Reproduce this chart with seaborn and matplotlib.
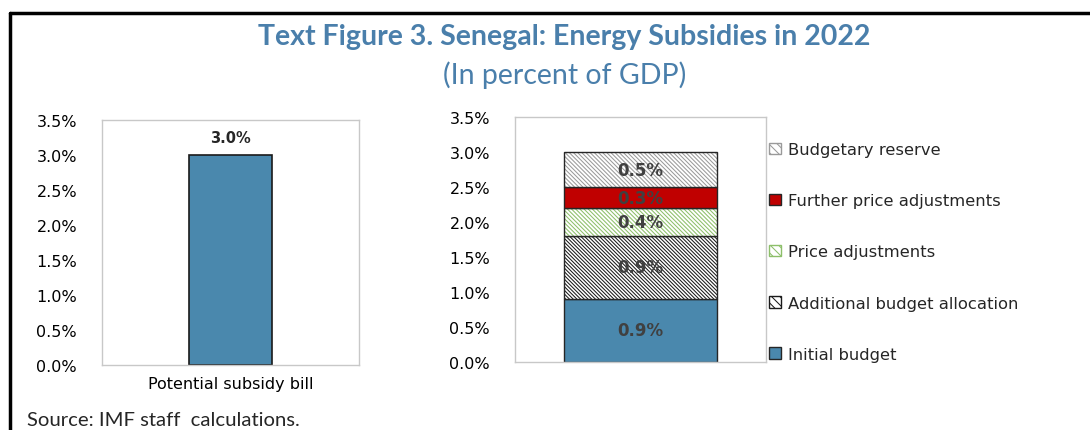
import matplotlib

matplotlib.use("Agg")

import matplotlib.lines as mlines
import matplotlib.patches as mpatches
import matplotlib.pyplot as plt
import matplotlib.ticker as ticker
import numpy as np
import pandas as pd
import seaborn as sns

# data
bill_category = ["Potential subsidy bill"]
bill_value = [3.0]

components = [
    "Initial budget",
    "Additional budget allocation",
    "Price adjustments",
    "Further price adjustments",
    "Budgetary reserve",
]
component_values = [0.9, 0.9, 0.4, 0.3, 0.5]
yticks = [0.0, 0.5, 1.0, 1.5, 2.0, 2.5, 3.0, 3.5]

# styles per component: (facecolor, hatch, hatch colour)
styles = {
    "Initial budget": ("#4A88AD", "", "#4A88AD"),
    "Additional budget allocation": ("white", "\\" * 9, "#1a1a1a"),
    "Price adjustments": ("white", "\\" * 8, "#8DBF6A"),
    "Further price adjustments": ("#C00000", "", "#C00000"),
    "Budgetary reserve": ("white", "\\" * 8, "#9a9a9a"),
}

TITLE_BLUE = "#4A7FAB"
GRID_GREY = "#C8C8C8"
TEXT_FONT = ["DejaVu Sans"]
CAL_FONT = ["Lato", "DejaVu Sans"]

sns.set_style("white")
plt.rcParams["font.family"] = TEXT_FONT
plt.rcParams["hatch.linewidth"] = 0.75

fig = plt.figure(figsize=(10.9, 4.31), dpi=100)


def style_axes(ax):
    ax.set_ylim(0, 3.5)
    ax.set_yticks(yticks)
    ax.yaxis.set_major_formatter(ticker.FuncFormatter(lambda v, _: f"{v:.1f}%"))
    ax.tick_params(axis="both", length=0, labelsize=11.5, colors="black")
    ax.tick_params(axis="y", pad=18)
    for s in ax.spines.values():
        s.set_visible(True)
        s.set_color(GRID_GREY)
        s.set_linewidth(1.0)
    ax.set_xlabel("")
    ax.set_ylabel("")


# left panel
ax1 = fig.add_axes([0.0936, 0.1508, 0.2358, 0.5684])
bill_df = pd.DataFrame({"category": bill_category, "value": bill_value})
sns.barplot(
    data=bill_df,
    x="category",
    y="value",
    color="#4A88AD",
    saturation=1,
    width=0.32,
    edgecolor="#1a1a1a",
    linewidth=1.2,
    ax=ax1,
)
ax1.set_xlim(-0.5, 0.5)
style_axes(ax1)
ax1.tick_params(axis="x", pad=8)
for v in bill_value:
    ax1.annotate(
        f"{v:.1f}%",
        (0, v),
        xytext=(0, 7),
        textcoords="offset points",
        ha="center",
        va="bottom",
        fontsize=10.5,
        fontweight="bold",
    )

# right panel (stacked)
ax2 = fig.add_axes([0.4725, 0.1578, 0.2303, 0.5684])
bottoms = np.concatenate([[0], np.cumsum(component_values)[:-1]])
handles = []
for name, val, bot in zip(components, component_values, bottoms):
    face, hatch, hcol = styles[name]
    seg = pd.DataFrame({"x": [""], "y": [val]})
    sns.barplot(
        data=seg,
        x="x",
        y="y",
        color=face,
        saturation=1,
        width=0.61,
        bottom=bot,
        hatch=hatch,
        edgecolor=hcol,
        linewidth=0,
        ax=ax2,
    )
    # dark outline for the segment
    sns.barplot(
        data=seg,
        x="x",
        y="y",
        fill=False,
        color="#262626",
        width=0.61,
        bottom=bot,
        linewidth=1.0,
        ax=ax2,
    )
    ax2.text(
        0,
        bot + val / 2,
        f"{val:.1f}%",
        ha="center",
        va="center",
        fontsize=12,
        fontweight="bold",
        color="#404040",
    )
    handles.append(
        mpatches.Patch(facecolor=face, hatch=hatch[:4], edgecolor=hcol if hatch else "#262626", label=name)
    )
ax2.set_xlim(-0.5, 0.5)
style_axes(ax2)
ax2.set_xticks([])

leg = ax2.legend(
    handles=handles[::-1],
    loc="center left",
    bbox_to_anchor=(1.0, 0.449),
    frameon=False,
    fontsize=11.8,
    labelspacing=2.2,
    handlelength=0.7,
    handleheight=0.7,
    handletextpad=0.45,
    borderaxespad=0.0,
    borderpad=0.2,
)

# titles
fig.text(0.518, 0.913, "Text Figure 3. Senegal: Energy Subsidies in 2022",
         ha="center", va="center", fontsize=20.5, fontweight="bold",
         color=TITLE_BLUE, family=CAL_FONT)
fig.text(0.518, 0.826, "(In percent of GDP)", ha="center", va="center",
         fontsize=20.5, color=TITLE_BLUE, family=CAL_FONT)
fig.text(27 / 1090, 0.025, "Source: IMF staff  calculations.", ha="left", va="center",
         fontsize=14.6, family=CAL_FONT)

# frame lines (top and left)
fig.add_artist(mlines.Line2D([10 / 1090, 1.0], [1 - 14 / 431] * 2, color="black", lw=2.5))
fig.add_artist(mlines.Line2D([10 / 1090] * 2, [0.0, 1 - 14 / 431], color="black", lw=2.5))

fig.savefig("out.png", dpi=100)
